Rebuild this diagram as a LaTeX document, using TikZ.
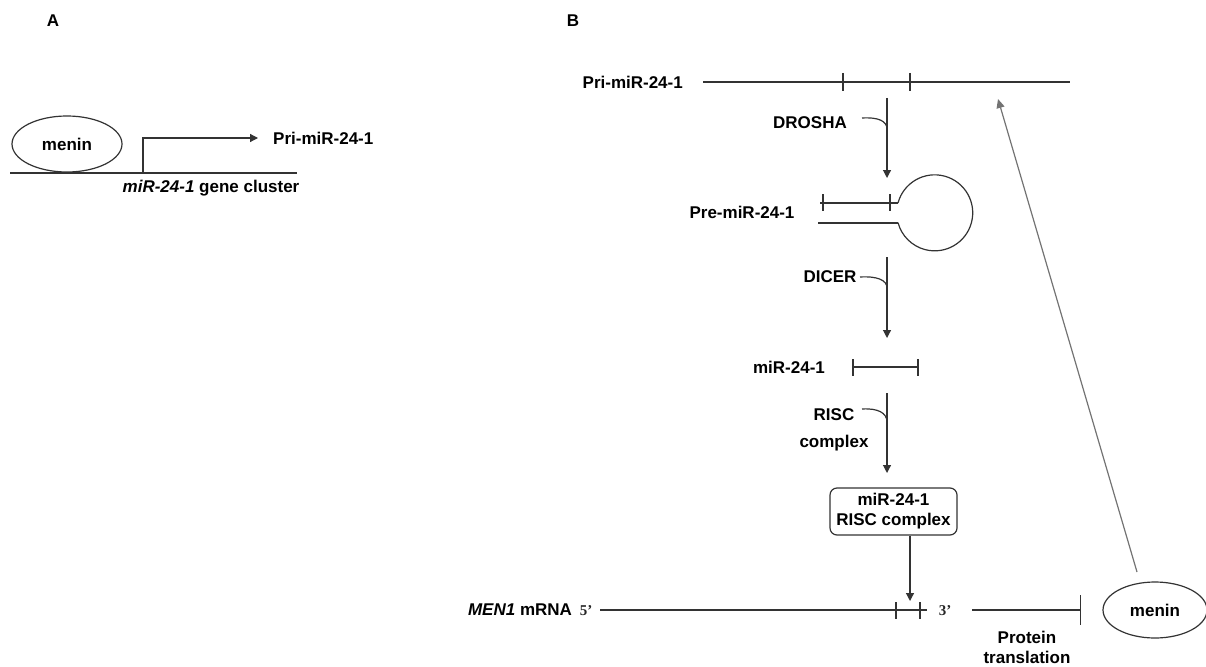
\documentclass[tikz,border=0pt]{standalone}
\usepackage{fontspec}
\setmainfont{Liberation Sans}
\newfontfamily\primefont{Liberation Serif}
\usetikzlibrary{arrows.meta,shapes.geometric,calc}
\tikzset{
  ln/.style={draw=black!80, line width=1.2pt},
  arr/.style={ln, -{Triangle[length=8pt,width=8pt]}},
  tick/.style={ln},
  lbl/.style={inner sep=0pt, font=\fontsize{17}{20}\selectfont\bfseries},
  primelbl/.style={inner sep=0pt, font=\fontsize{15}{18}\selectfont\primefont\bfseries, text=black!85},
  oval/.style={ellipse, ln, inner sep=0pt, font=\fontsize{17}{20}\selectfont\bfseries},
  enzyme/.style={ln},
}
\begin{document}
\begin{tikzpicture}[x=1pt,y=-1pt]
\useasboundingbox (0,0) rectangle (1206,666);
% ---------- Panel A ----------
\node[lbl] (labA) at (53,21) {A};
\node[oval, minimum width=110pt, minimum height=56pt] (meninA) at (67,144) {menin};
\coordinate (gA1) at (10,173);
\coordinate (gA2) at (297,173);
\draw[ln] (gA1) -- (gA2);
\coordinate (tss) at (143,173);
\node[lbl, anchor=west] (priA) at (273,138) {Pri-miR-24-1};
\draw[arr] (tss) |- ([xshift=-15pt]priA.west);
\node[lbl] (cluster) at (211,188) {\textit{miR-24-1} gene cluster};
% ---------- Panel B ----------
\node[lbl] (labB) at (573,21) {B};
% Pri-miRNA
\node[lbl, anchor=east] (priB) at (683,82) {Pri-miR-24-1};
\coordinate (pl1) at (703,82);
\coordinate (pl2) at (1070,82);
\draw[ln] (pl1) -- (pl2);
\draw[tick] (843,73) -- (843,91);
\draw[tick] (910,73) -- (910,91);
% DROSHA step
\coordinate (d1) at (887,98);
\coordinate (d2) at (887,178);
\draw[arr] (d1) -- (d2);
\node[lbl] (drosha) at (810,123) {DROSHA};
\draw[enzyme] (862,118) .. controls (878,117) and (887,121) .. (887,129);
% Pre-miRNA hairpin
\node[lbl] (pre) at (742,212) {Pre-miR-24-1};
\draw[ln] (820,203) -- (898,203);
\draw[tick] (823,194) -- (823,211);
\draw[tick] (890,194) -- (890,211);
\draw[ln] (818,223) -- (898,223);
\draw[ln] (898,203) arc[start angle=195, end angle=525, radius=38];
% DICER step
\coordinate (c1) at (887,257);
\coordinate (c2) at (887,338);
\draw[arr] (c1) -- (c2);
\node[lbl] (dicer) at (830,277) {DICER};
\draw[enzyme] (860,277) .. controls (877,276) and (887,280) .. (887,288);
% mature miRNA
\node[lbl] (mir) at (789,367) {miR-24-1};
\draw[ln] (853,367) -- (918,367);
\draw[tick] (853,359) -- (853,376);
\draw[tick] (918,359) -- (918,376);
% RISC step
\coordinate (r1) at (887,393);
\coordinate (r2) at (887,473);
\draw[arr] (r1) -- (r2);
\node[lbl, align=center] (risc) at (834,430) {RISC\\[7pt]complex};
\draw[enzyme] (862,409) .. controls (878,408) and (887,413) .. (887,422);
% RISC complex box
\node[lbl, ln, rounded corners=7pt, minimum width=127pt, minimum height=47pt, align=center] (box) at (893.5,511.5) {miR-24-1\\RISC complex};
\coordinate (mtarget) at (910,601);
\draw[arr] (box.south -| mtarget) -- (mtarget);
% MEN1 mRNA
\node[lbl] (men1) at (520,610) {\textit{MEN1} mRNA};
\node[primelbl] (five) at (586,611) {5’};
\coordinate (m1) at (600,610);
\coordinate (m2) at (927,610);
\draw[ln] (m1) -- (m2);
\draw[tick] (896,602) -- (896,619);
\draw[tick] (920,602) -- (920,619);
\node[primelbl] (three) at (945,611) {3’};
% menin protein
\node[oval, minimum width=104pt, minimum height=56pt] (meninB) at (1155,610) {menin};
\coordinate (t1) at (972,610);
\draw[ln, -{Bar[width=30pt, line width=1.2pt]}] (t1) -- ([xshift=-21pt]meninB.west);
\node[lbl, align=center] (transl) at (1027,647) {Protein\\translation};
% feedback arrow
\coordinate (fb1) at (1137,572);
\coordinate (fb2) at (998,99);
\draw[draw=black!55, line width=1.2pt, -{Triangle[length=9pt,width=8pt]}] (fb1) -- (fb2);
\end{tikzpicture}
\end{document}
